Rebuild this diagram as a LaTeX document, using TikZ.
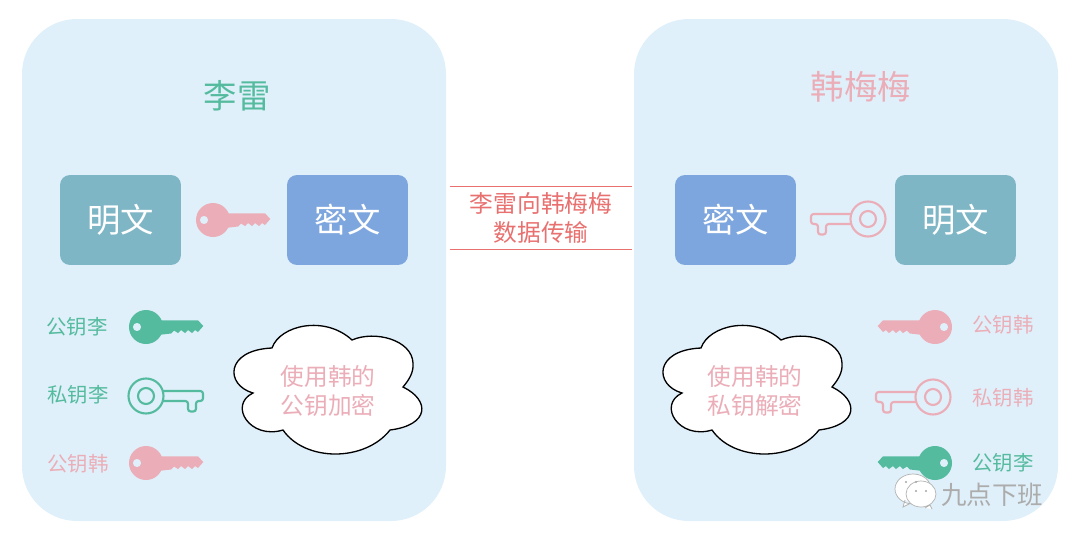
\documentclass[tikz,border=0pt]{standalone}
\usepackage{fontspec}
\setmainfont{Noto Sans CJK SC}
\definecolor{panelblue}{HTML}{DFF0FA}
\definecolor{plainbox}{HTML}{7FB6C6}
\definecolor{cipherbox}{HTML}{7EA6DE}
\definecolor{keygreen}{HTML}{55BB9E}
\definecolor{keypink}{HTML}{EBAEB8}
\definecolor{linered}{HTML}{E8706F}
\tikzset{
  panel/.style={fill=panelblue, rounded corners=1.1cm},
  textbox/.style={rounded corners=0.2cm, minimum width=2.42cm, minimum height=1.8cm, text=white, font=\fontsize{19}{19}\selectfont},
  title/.style={font=\fontsize{19}{19}\selectfont},
  keylabel/.style={font=\fontsize{11.6}{12}\selectfont},
  cloudtext/.style={text=keypink, align=center, font=\fontsize{13.5}{16.5}\selectfont},
  solidkey/.pic={
    \fill[pic actions, even odd rule] (0,0) circle (17) (-9,0) circle (4.2);
    \fill[pic actions] (12,-6.7) -- (52,-6.7) -- (57.3,-1) -- (52,5) -- (49,3) -- (46,6) -- (42,3)
      -- (39,6) -- (35,3) -- (32,6) -- (28,3.5) -- (25,6.5) -- (12,8) -- cycle;
  },
  ringkey/.pic={
    \draw[pic actions, line width=1.2pt] (0,0) circle (17.5) (0,0) circle (8);
    \draw[pic actions, line width=1.2pt, rounded corners=1.5pt] (17,-5) -- (57,-5) -- (57,5) -- (50,5)
      -- (50,15.5) -- (42,15.5) -- (42,5) -- (17,5);
  },
  cloudshape/.pic={
    \draw[fill=white, line width=0.75pt] (272,348)
      .. controls (280,325) and (325,315) .. (352,340)
      .. controls (375,330) and (412,340) .. (413,363)
      .. controls (414,373) and (408,381) .. (403,387)
      .. controls (430,400) and (430,425) .. (390,430)
      .. controls (365,462) and (305,462) .. (283,430)
      .. controls (250,440) and (228,405) .. (253,393)
      .. controls (225,385) and (225,350) .. (272,348) -- cycle;
  }
}
\begin{document}
\begin{tikzpicture}[x=0.02cm, y=-0.02cm]
  \useasboundingbox (0,0) rectangle (1080,542);

  \fill[panel] (22,19) rectangle (446,521);
  \fill[panel] (634,19) rectangle (1058,521);

  % left side
  \node[title, text=keygreen] (nameLi) at (237,96) {李雷};
  \node[textbox, fill=plainbox] (plainLi) at (120.5,220) {明文};
  \node[textbox, fill=cipherbox] (cipherLi) at (347.5,220) {密文};
  \pic[fill=keypink] at (213,220) {solidkey};

  \node[keylabel, text=keygreen] (pubLi) at (77,327) {公钥李};
  \node[keylabel, text=keygreen] (priLi) at (78,395) {私钥李};
  \node[keylabel, text=keypink] (pubHan) at (78,464) {公钥韩};
  \pic[fill=keygreen] at (146,327) {solidkey};
  \pic[draw=keygreen] at (146,396) {ringkey};
  \pic[fill=keypink] at (146,463) {solidkey};

  \pic at (0,0) {cloudshape};
  \node[cloudtext] (encrypt) at (328,391) {使用韩的\\公钥加密};

  % middle
  \node[minimum width=3.64cm, minimum height=1.2cm, align=center, text=linered,
    font=\fontsize{13.5}{16.5}\selectfont] (transfer) at (541,218) {李雷向韩梅梅\\数据传输};
  \draw[linered, line width=0.6pt] (transfer.north west) -- (transfer.north east);
  \draw[linered, line width=0.6pt] (transfer.south west) -- (transfer.south east);

  % right side
  \node[title, text=keypink] (nameHan) at (861,87) {韩梅梅};
  \node[textbox, fill=cipherbox] (cipherHan) at (735.5,220) {密文};
  \node[textbox, fill=plainbox] (plainHan) at (955.5,220) {明文};
  \pic[draw=keypink, xscale=-1] at (868,219) {ringkey};

  \node[keylabel, text=keypink] (pubHanB) at (1003,325) {公钥韩};
  \node[keylabel, text=keypink] (priHan) at (1003,398) {私钥韩};
  \node[keylabel, text=keygreen] (pubLiB) at (1003,463) {公钥李};
  \pic[fill=keypink, xscale=-1] at (935,327) {solidkey};
  \pic[draw=keypink, xscale=-1] at (933,397) {ringkey};
  \pic[fill=keygreen, xscale=-1] at (935,463) {solidkey};

  \pic at (429,0) {cloudshape};
  \node[cloudtext] (decrypt) at (755,391) {使用韩的\\私钥解密};

  % watermark
  \draw[gray!60, fill=white, line width=0.4pt] (905,500) -- (903,507) -- (911,503) (913,489) ellipse (18 and 15);
  \draw[gray!60, fill=white, line width=0.4pt] (932,509) -- (930,505) -- (925,508) (921,494) ellipse (15 and 13);
  \fill[gray!70] (906,482) circle (1.2) (916,482) circle (1.2) (916,491) circle (1.2) (926,491) circle (1.2);
  \node[text=gray!65, font=\fontsize{14.5}{15}\selectfont] (mark) at (992,495) {九点下班};
\end{tikzpicture}
\end{document}
